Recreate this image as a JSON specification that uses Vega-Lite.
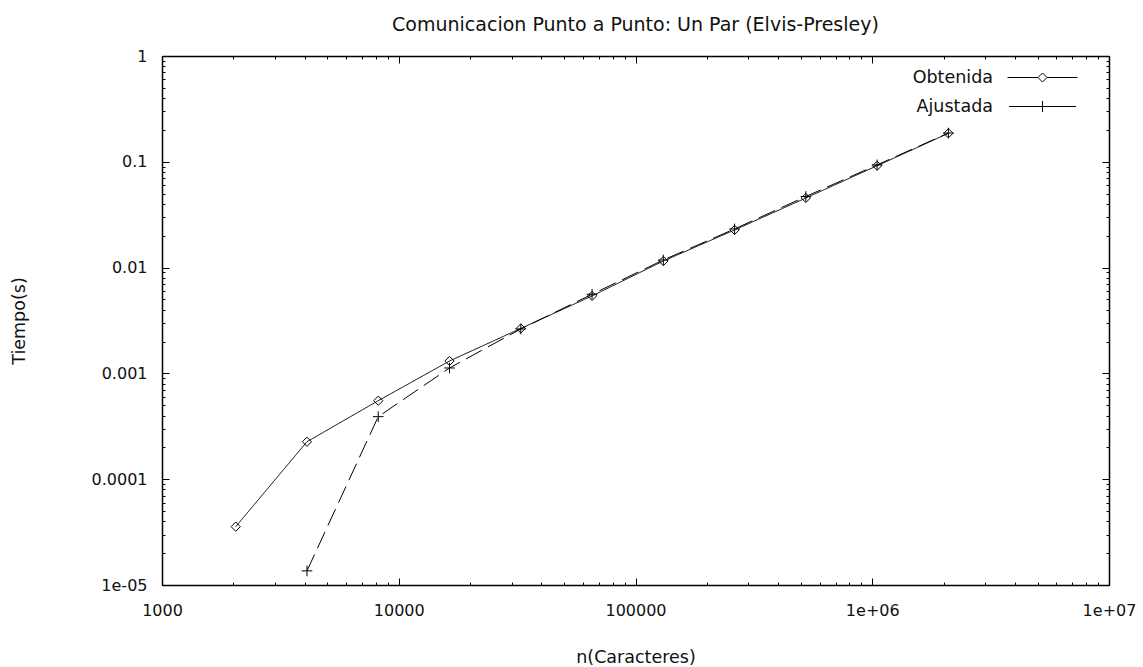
{
  "$schema": "https://vega.github.io/schema/vega-lite/v6.json",
  "width": 947,
  "height": 529,
  "autosize": {"type": "none"},
  "padding": {"left": 162, "top": 56, "right": 34, "bottom": 82},
  "background": "white",
  "config": {"view": {"stroke": null}, "font": "DejaVu Sans"},
  "title": {"text": "Comunicacion Punto a Punto: Un Par (Elvis-Presley)", "font": "DejaVu Sans", "fontSize": 19, "fontWeight": "normal", "color": "#111", "anchor": "middle", "frame": "group", "offset": 13},
  "data": {"values": [
    {"n": 2048, "t": 0.0000356, "serie": "Obtenida"},
    {"n": 4096, "t": 0.000226, "serie": "Obtenida"},
    {"n": 8192, "t": 0.000552, "serie": "Obtenida"},
    {"n": 16384, "t": 0.00131, "serie": "Obtenida"},
    {"n": 32768, "t": 0.00266, "serie": "Obtenida"},
    {"n": 65536, "t": 0.0054, "serie": "Obtenida"},
    {"n": 131072, "t": 0.01154, "serie": "Obtenida"},
    {"n": 262144, "t": 0.0227, "serie": "Obtenida"},
    {"n": 524288, "t": 0.0455, "serie": "Obtenida"},
    {"n": 1048576, "t": 0.0918, "serie": "Obtenida"},
    {"n": 2097152, "t": 0.186, "serie": "Obtenida"},
    {"n": 4096, "t": 0.0000136, "serie": "Ajustada"},
    {"n": 8192, "t": 0.00039, "serie": "Ajustada"},
    {"n": 16384, "t": 0.001125, "serie": "Ajustada"},
    {"n": 32768, "t": 0.00263, "serie": "Ajustada"},
    {"n": 65536, "t": 0.0056, "serie": "Ajustada"},
    {"n": 131072, "t": 0.0118, "serie": "Ajustada"},
    {"n": 262144, "t": 0.0232, "serie": "Ajustada"},
    {"n": 524288, "t": 0.047, "serie": "Ajustada"},
    {"n": 1048576, "t": 0.0935, "serie": "Ajustada"},
    {"n": 2097152, "t": 0.187, "serie": "Ajustada"}
  ]},
  "layer": [
    {
      "mark": {"type": "line", "color": "black", "strokeWidth": 1},
      "encoding": {
        "x": {"field": "n", "type": "quantitative", "scale": {"type": "log", "domain": [1000, 10000000], "nice": false},
          "axis": {"orient": "bottom", "values": [1000,2000,3000,4000,5000,6000,7000,8000,9000,10000,20000,30000,40000,50000,60000,70000,80000,90000,100000,200000,300000,400000,500000,600000,700000,800000,900000,1000000,2000000,3000000,4000000,5000000,6000000,7000000,8000000,9000000,10000000],
            "labelExpr": "abs(log(datum.value)/LN10 - round(log(datum.value)/LN10)) < 0.001 ? ['1000','10000','100000','1e+06','1e+07'][round(log(datum.value)/LN10)-3] : ''",
            "tickSize": {"condition": {"test": "abs(log(datum.value)/LN10 - round(log(datum.value)/LN10)) < 0.001", "value": -7}, "value": -3},
            "tickColor": "black", "tickWidth": 1, "domainColor": "black", "domainWidth": 1.5, "grid": false,
            "labelFont": "DejaVu Sans", "labelFontSize": 16, "labelColor": "#111", "labelPadding": 24, "labelFlush": false, "labelOverlap": false,
            "title": "n(Caracteres)", "titleFont": "DejaVu Sans", "titleFontSize": 17.5, "titleFontWeight": "normal", "titleColor": "#111", "titlePadding": 26}},
        "y": {"field": "t", "type": "quantitative", "scale": {"type": "log", "domain": [0.00001, 1], "nice": false},
          "axis": {"orient": "left", "values": [0.00001,0.00002,0.00003,0.00004,0.00005,0.00006,0.00007,0.00008,0.00009,0.0001,0.0002,0.0003,0.0004,0.0005,0.0006,0.0007,0.0008,0.0009,0.001,0.002,0.003,0.004,0.005,0.006,0.007,0.008,0.009,0.01,0.02,0.03,0.04,0.05,0.06,0.07,0.08,0.09,0.1,0.2,0.3,0.4,0.5,0.6,0.7,0.8,0.9,1],
            "labelExpr": "abs(log(datum.value)/LN10 - round(log(datum.value)/LN10)) < 0.001 ? ['1e-05','0.0001','0.001','0.01','0.1','1'][round(log(datum.value)/LN10)+5] : ''",
            "tickSize": {"condition": {"test": "abs(log(datum.value)/LN10 - round(log(datum.value)/LN10)) < 0.001", "value": -7}, "value": -3},
            "tickColor": "black", "tickWidth": 1, "domainColor": "black", "domainWidth": 1.5, "grid": false,
            "labelFont": "DejaVu Sans", "labelFontSize": 16, "labelColor": "#111", "labelPadding": 22, "labelFlush": false, "labelOverlap": false,
            "title": "Tiempo(s)", "titleFont": "DejaVu Sans", "titleFontSize": 17.5, "titleFontWeight": "normal", "titleColor": "#111", "titlePadding": 63}},
        "strokeDash": {"field": "serie", "type": "nominal", "scale": {"domain": ["Obtenida", "Ajustada"], "range": [[1, 0], [18, 7]]}, "legend": null}
      }
    },
    {
      "mark": {"type": "point", "filled": false, "color": "black", "strokeWidth": 1, "size": 85, "opacity": 1},
      "encoding": {
        "x": {"field": "n", "type": "quantitative", "scale": {"type": "log", "domain": [1000, 10000000], "nice": false}, "axis": null},
        "y": {"field": "t", "type": "quantitative", "scale": {"type": "log", "domain": [0.00001, 1], "nice": false}, "axis": null},
        "shape": {"field": "serie", "type": "nominal", "scale": {"domain": ["Obtenida", "Ajustada"], "range": ["M0,-1L1,0L0,1L-1,0Z", "M-1.15,0H1.15M0,-1.15V1.15"]}, "legend": null}
      }
    },
    {
      "mark": {"type": "point", "filled": false, "color": "black", "opacity": 0},
      "encoding": {
        "x": {"field": "n", "type": "quantitative", "scale": {"type": "log", "domain": [1000, 10000000], "nice": false},
          "axis": {"orient": "top", "values": [1000,2000,3000,4000,5000,6000,7000,8000,9000,10000,20000,30000,40000,50000,60000,70000,80000,90000,100000,200000,300000,400000,500000,600000,700000,800000,900000,1000000,2000000,3000000,4000000,5000000,6000000,7000000,8000000,9000000,10000000],
            "labels": false, "title": null,
            "tickSize": {"condition": {"test": "abs(log(datum.value)/LN10 - round(log(datum.value)/LN10)) < 0.001", "value": -7}, "value": -3},
            "tickColor": "black", "tickWidth": 1, "domainColor": "black", "domainWidth": 1.5, "grid": false}},
        "y": {"field": "t", "type": "quantitative", "scale": {"type": "log", "domain": [0.00001, 1], "nice": false},
          "axis": {"orient": "right", "values": [0.00001,0.00002,0.00003,0.00004,0.00005,0.00006,0.00007,0.00008,0.00009,0.0001,0.0002,0.0003,0.0004,0.0005,0.0006,0.0007,0.0008,0.0009,0.001,0.002,0.003,0.004,0.005,0.006,0.007,0.008,0.009,0.01,0.02,0.03,0.04,0.05,0.06,0.07,0.08,0.09,0.1,0.2,0.3,0.4,0.5,0.6,0.7,0.8,0.9,1],
            "labels": false, "title": null,
            "tickSize": {"condition": {"test": "abs(log(datum.value)/LN10 - round(log(datum.value)/LN10)) < 0.001", "value": -7}, "value": -3},
            "tickColor": "black", "tickWidth": 1, "domainColor": "black", "domainWidth": 1.5, "grid": false}},
        "shape": {"field": "serie", "type": "nominal", "scale": {"domain": ["Obtenida", "Ajustada"], "range": ["M-3.5,0H-0.45M0.45,0H3.5M0,-0.45L0.45,0L0,0.45L-0.45,0Z", "M-3.35,0H3.35M0,-0.55V0.55"]},
          "legend": {"orient": "none", "legendX": 870, "legendY": 11, "title": null, "direction": "vertical", "padding": 0,
            "symbolSize": 400, "symbolStrokeColor": "black", "symbolStrokeWidth": 1, "symbolOpacity": 1,
            "labelAlign": "right", "labelOffset": -60, "labelFont": "DejaVu Sans", "labelFontSize": 17.5, "labelColor": "#111", "labelLimit": 300,
            "rowPadding": 10,
            "encode": {"symbols": {"update": {"opacity": {"value": 1}, "stroke": {"value": "black"}}}}}}
      }
    }
  ],
  "resolve": {"axis": {"x": "independent", "y": "independent"}, "scale": {"shape": "independent"}, "legend": {"shape": "independent"}}
}
